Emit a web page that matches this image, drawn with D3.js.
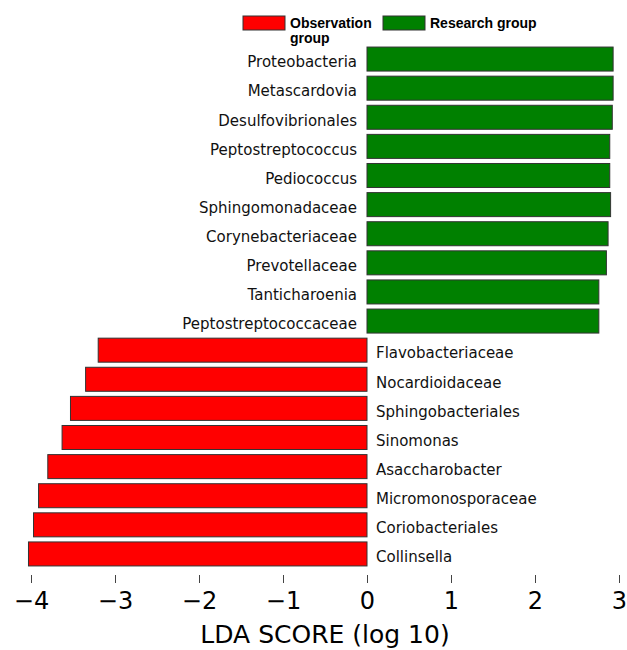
<!DOCTYPE html>
<html>
<head>
<meta charset="utf-8">
<script src="https://cdn.jsdelivr.net/npm/d3@7"></script>
<style>
  html, body { margin: 0; padding: 0; background: #fff; }
  svg { display: block; }
</style>
</head>
<body>
<script>
// LDA effect sizes per taxon: positive = Research group, negative = Observation group
const taxa = [
  "Proteobacteria", "Metascardovia", "Desulfovibrionales", "Peptostreptococcus",
  "Pediococcus", "Sphingomonadaceae", "Corynebacteriaceae", "Prevotellaceae",
  "Tanticharoenia", "Peptostreptococcaceae",
  "Flavobacteriaceae", "Nocardioidaceae", "Sphingobacteriales", "Sinomonas",
  "Asaccharobacter", "Micromonosporaceae", "Coriobacteriales", "Collinsella"
];
const ldaScores = [
  2.93, 2.93, 2.92, 2.89, 2.89, 2.90, 2.87, 2.85, 2.76, 2.76,
  -3.20, -3.35, -3.53, -3.63, -3.80, -3.91, -3.97, -4.03
];
const groups = ["Observation group", "Research group"];
const groupColors = ["#ff0000", "#008000"];
const xTicks = [-4, -3, -2, -1, 0, 1, 2, 3];
const xTitle = "LDA SCORE (log 10)";

const W = 627, H = 650;
const svg = d3.select("body").append("svg").attr("width", W).attr("height", H);

const x = d3.scaleLinear().domain([-4, 3]).range([31, 619]);
const y = d3.scaleBand().domain(taxa).range([44.5, 568.5])
  .paddingInner(0.175).paddingOuter(0.0875);

const rows = taxa.map((t, i) => ({ name: t, v: ldaScores[i] }));

// bars
svg.append("g").selectAll("rect").data(rows).join("rect")
  .attr("x", d => x(Math.min(0, d.v)))
  .attr("y", d => y(d.name))
  .attr("width", d => Math.abs(x(d.v) - x(0)))
  .attr("height", y.bandwidth())
  .attr("fill", d => d.v < 0 ? groupColors[0] : groupColors[1])
  .attr("stroke", "#333")
  .attr("stroke-width", 1);

// taxon labels on the opposite side of zero
svg.append("g").selectAll("text").data(rows).join("text")
  .attr("x", d => d.v < 0 ? x(0) + 9 : x(0) - 10)
  .attr("y", d => y(d.name) + y.bandwidth() / 2)
  .attr("dy", "0.55em")
  .attr("text-anchor", d => d.v < 0 ? "start" : "end")
  .attr("font-family", "DejaVu Sans")
  .attr("font-size", 15)
  .attr("fill", "#111")
  .text(d => d.name);

// x axis: ticks and labels only
const axis = svg.append("g")
  .attr("transform", "translate(0,575)")
  .call(d3.axisBottom(x).tickValues(xTicks).tickSize(8).tickPadding(9)
    .tickFormat(d => d < 0 ? "\u2212" + Math.abs(d) : String(d)));
axis.select(".domain").remove();
axis.selectAll(".tick line").attr("stroke", "#444").attr("stroke-width", 1);
axis.selectAll(".tick text")
  .attr("font-family", "DejaVu Sans")
  .attr("font-size", 24)
  .attr("fill", "#000");

svg.append("text")
  .attr("x", 325)
  .attr("y", 643)
  .attr("text-anchor", "middle")
  .attr("font-family", "DejaVu Sans")
  .attr("font-size", 25)
  .attr("fill", "#000")
  .text(xTitle);

// legend
const legend = svg.append("g").attr("font-family", "Liberation Sans, Arial, sans-serif")
  .attr("font-size", 14).attr("font-weight", "bold").attr("fill", "#000");
const legendX = [243, 383];
groups.forEach((g, i) => {
  legend.append("rect")
    .attr("x", legendX[i]).attr("y", 16)
    .attr("width", 42).attr("height", 14)
    .attr("fill", groupColors[i]).attr("stroke", "#333").attr("stroke-width", 1);
  const t = legend.append("text").attr("x", legendX[i] + 47).attr("y", 28);
  if (i === 0) {
    const parts = g.split(" ");
    t.append("tspan").attr("x", legendX[i] + 47).text(parts[0]);
    t.append("tspan").attr("x", legendX[i] + 47).attr("dy", 15).text(parts[1]);
  } else {
    t.text(g);
  }
});
</script>
</body>
</html>
